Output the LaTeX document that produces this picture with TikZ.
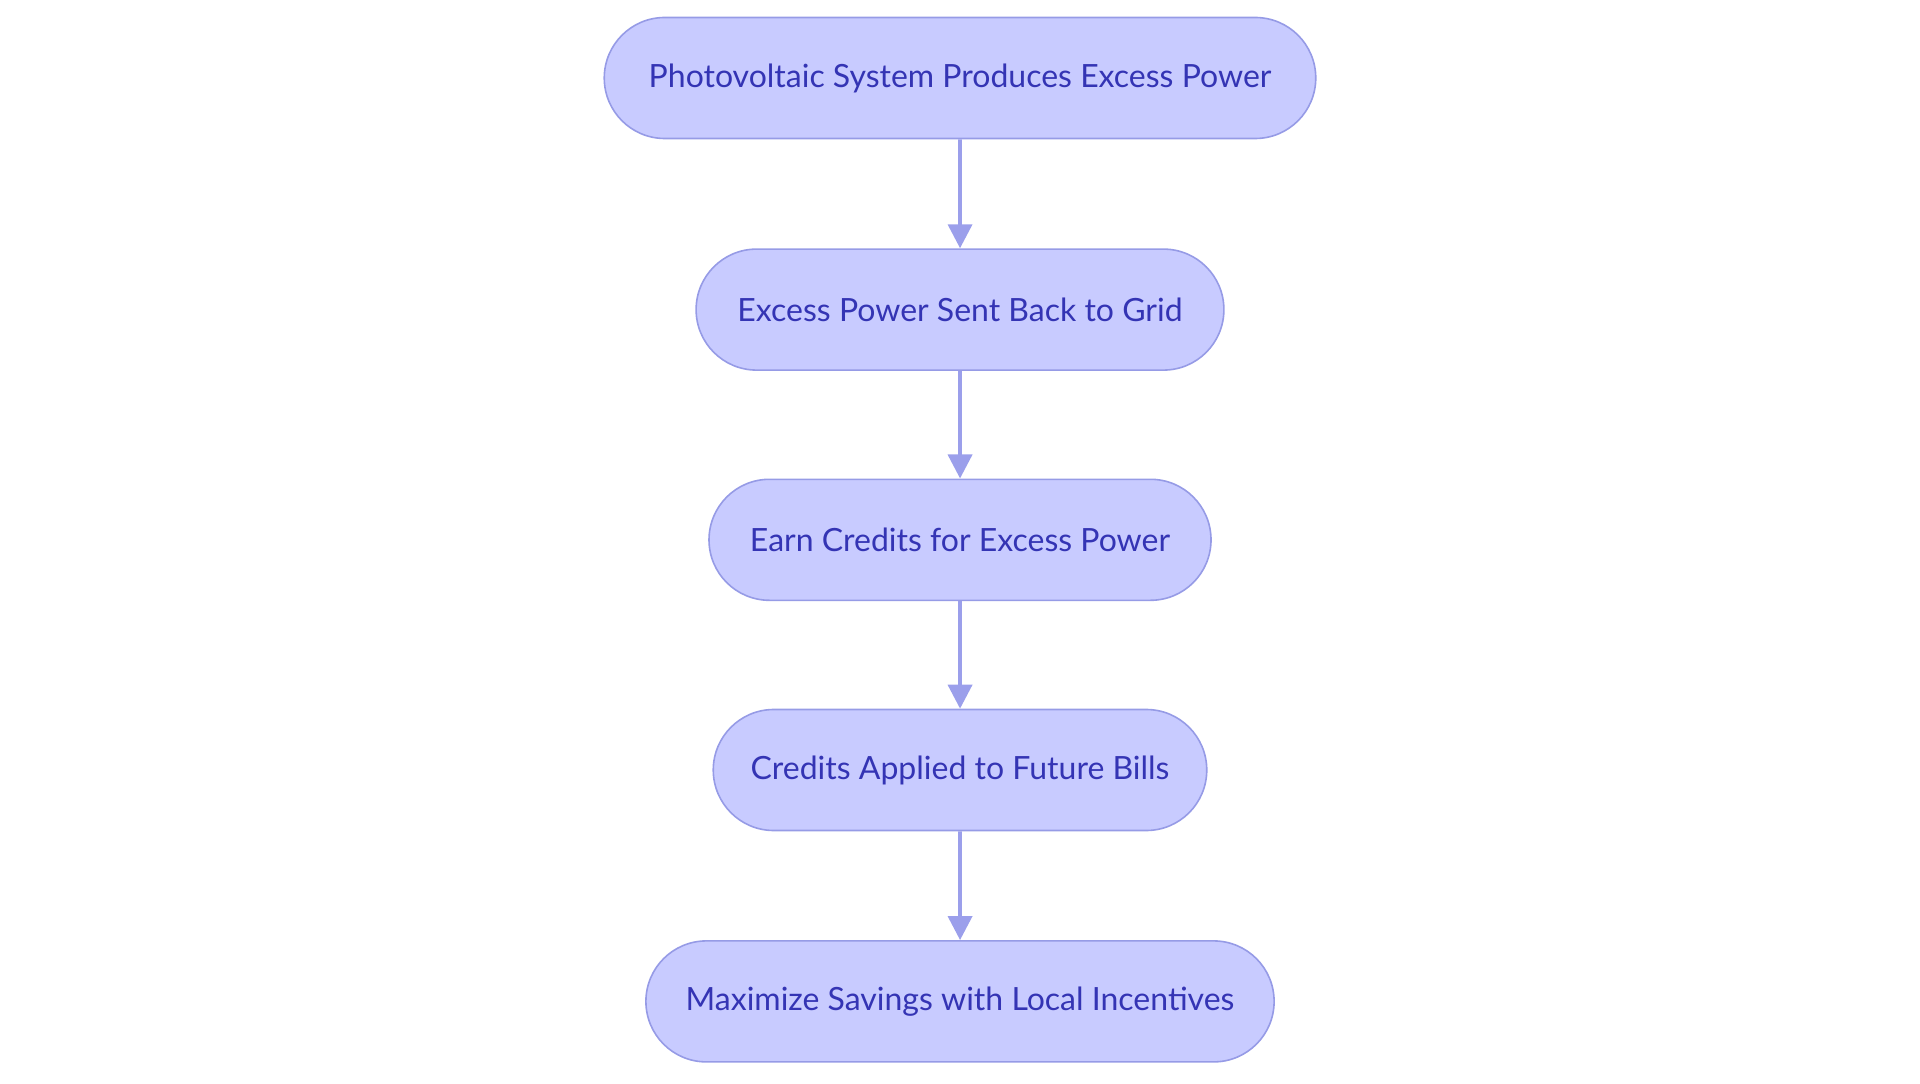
\documentclass[tikz,border=0pt]{standalone}
\usepackage{fontspec}
\setmainfont{Lato}
\usetikzlibrary{shapes.misc,arrows.meta}
\definecolor{nodefill}{RGB}{200,203,255}
\definecolor{nodeedge}{RGB}{150,155,230}
\definecolor{nodetext}{RGB}{52,52,180}
\definecolor{arrowcol}{RGB}{155,159,235}
\tikzset{
  stepbox/.style={rounded rectangle, draw=nodeedge, fill=nodefill, line width=0.8pt,
    minimum height=60.5pt, inner sep=0pt, text=nodetext, font=\fontsize{16}{19}\selectfont},
  flow/.style={draw=arrowcol, line width=1.9pt, -{Triangle[length=12pt,width=12pt]}}
}
\begin{document}
\begin{tikzpicture}[x=1pt,y=1pt]
\useasboundingbox (0,0) rectangle (960,541.5);
\node[stepbox, minimum width=355.75pt] (n1) at (480,502.5) {Photovoltaic System Produces Excess Power};
\node[stepbox, minimum width=263.9pt] (n2) at (480,386.7) {Excess Power Sent Back to Grid};
\node[stepbox, minimum width=251pt] (n3) at (480,271.6) {Earn Credits for Excess Power};
\node[stepbox, minimum width=246.75pt] (n4) at (480,156.5) {Credits Applied to Future Bills};
\node[stepbox, minimum width=314.1pt] (n5) at (480,40.8) {Maximize Savings with Local Incentives};
\draw[flow] (n1) -- (n2);
\draw[flow] (n2) -- (n3);
\draw[flow] (n3) -- (n4);
\draw[flow] (n4) -- (n5);
\end{tikzpicture}
\end{document}
